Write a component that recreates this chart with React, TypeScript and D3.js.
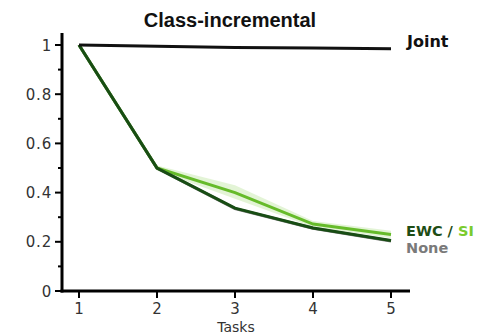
import React from "react";
import * as d3 from "d3";

const tasks = [1, 2, 3, 4, 5];
const joint = [1, 0.995, 0.99, 0.988, 0.985];
const none = [1, 0.5, 0.335, 0.255, 0.203];
const ewc = [1, 0.5, 0.337, 0.256, 0.205];
const si = [1, 0.5, 0.4, 0.272, 0.23];
const siLow = [1, 0.49, 0.375, 0.26, 0.215];
const siHigh = [1, 0.51, 0.43, 0.285, 0.245];
const yTicks = [0, 0.2, 0.4, 0.6, 0.8, 1];
const yMinor = [0.1, 0.3, 0.5, 0.7, 0.9];

export default function App() {
  const x = d3.scaleLinear().domain([1, 5]).range([79, 391]);
  const y = d3.scaleLinear().domain([0, 1]).range([291, 45]);
  const line = d3
    .line<number>()
    .x((_, i) => x(tasks[i]))
    .y((d) => y(d));
  const area = d3
    .area<number>()
    .x((_, i) => x(tasks[i]))
    .y0((_, i) => y(siLow[i]))
    .y1((_, i) => y(siHigh[i]));
  const tickFont = "'DejaVu Sans', sans-serif";
  const titleFont = "'Liberation Sans', Arial, sans-serif";
  const labelFont = "'DejaVu Sans', sans-serif";
  return (
    <svg
      width={479}
      height={335}
      style={{ position: "absolute", left: 0, top: 0, background: "#fff" }}
    >
      <text
        x={230}
        y={27}
        textAnchor="middle"
        fontFamily={titleFont}
        fontWeight="bold"
        fontSize={20}
        fill="#111"
      >
        Class-incremental
      </text>
      {/* axes */}
      <line x1={62} x2={62} y1={33} y2={292.5} stroke="#000" strokeWidth={3} />
      <line x1={60.5} x2={410} y1={291} y2={291} stroke="#000" strokeWidth={3} />
      {yTicks.map((t) => (
        <g key={t}>
          <line x1={55} x2={62} y1={y(t)} y2={y(t)} stroke="#000" strokeWidth={2} />
          <text
            x={52}
            y={y(t) + 5.5}
            textAnchor="end"
            fontFamily={tickFont}
            fontSize={15}
            letterSpacing={0.8}
            fill="#333"
          >
            {d3.format("~g")(t)}
          </text>
        </g>
      ))}
      {yMinor.map((t) => (
        <line key={t} x1={58} x2={62} y1={y(t)} y2={y(t)} stroke="#000" strokeWidth={2} />
      ))}
      {tasks.map((t) => (
        <g key={t}>
          <line x1={x(t)} x2={x(t)} y1={291} y2={298} stroke="#000" strokeWidth={2} />
          <text
            x={x(t)}
            y={314}
            textAnchor="middle"
            fontFamily={tickFont}
            fontSize={15}
            fill="#333"
          >
            {t}
          </text>
        </g>
      ))}
      <text
        x={236}
        y={332}
        textAnchor="middle"
        fontFamily={tickFont}
        fontSize={14}
        fill="#333"
      >
        Tasks
      </text>
      {/* data */}
      <path d={area(si) || ""} fill="#8fd35a" opacity={0.25} />
      <path d={line(none) || ""} fill="none" stroke="#777" strokeWidth={3} />
      <path d={line(si) || ""} fill="none" stroke="#66bb2a" strokeWidth={3} />
      <path d={line(ewc) || ""} fill="none" stroke="#184d14" strokeWidth={3} />
      <path d={line(joint) || ""} fill="none" stroke="#111" strokeWidth={3} />
      {/* labels */}
      <text x={407} y={47} fontFamily={labelFont} fontWeight="bold" fontSize={16} fill="#111">
        Joint
      </text>
      <text x={406} y={236} fontFamily={labelFont} fontWeight="bold" fontSize={14.5}>
        <tspan fill="#1e4d16">EWC / </tspan>
        <tspan fill="#7acb2e">SI</tspan>
      </text>
      <text x={406} y={253} fontFamily={labelFont} fontWeight="bold" fontSize={14.5} fill="#7a7a7a">
        None
      </text>
    </svg>
  );
}
